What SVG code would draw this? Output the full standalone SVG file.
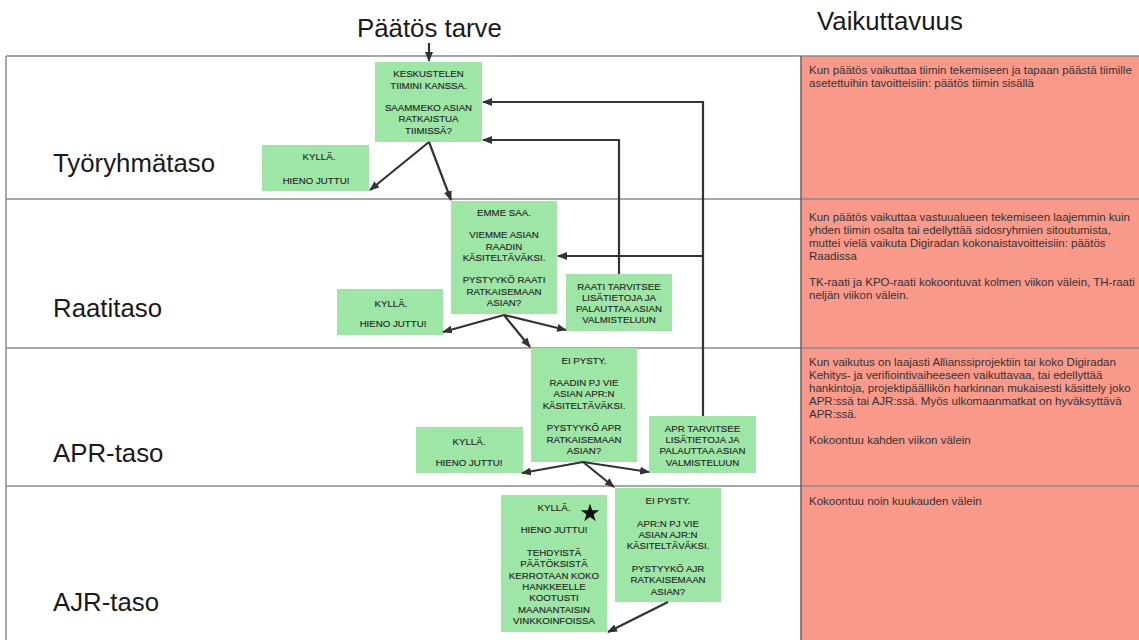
<svg xmlns="http://www.w3.org/2000/svg" width="1139" height="640" viewBox="0 0 1139 640">
<defs>
<marker id="ah" markerWidth="10" markerHeight="8" refX="9" refY="4" orient="auto" markerUnits="userSpaceOnUse">
<path d="M0,0 L10,4 L0,8 z" fill="#333"/>
</marker>
<style>
.grid{stroke:#8a8a8a;stroke-width:1.5;fill:none}
.box{fill:#9ee6a5}
.bt{font-family:"Liberation Sans",Arial,sans-serif;font-size:9.7px;fill:#262626;stroke:#262626;stroke-width:0.15;text-anchor:middle}
.lvl{font-family:"Liberation Sans",Arial,sans-serif;font-size:25.8px;fill:#1a1a1a}
.rt{font-family:"Liberation Sans",Arial,sans-serif;font-size:11.5px;fill:#333}
.con{stroke:#333;stroke-width:2.2;fill:none;marker-end:url(#ah)}
</style>
</defs>
<rect width="1139" height="640" fill="#fff"/>
<g id="table">
<rect x="801" y="56" width="338" height="584" fill="#f8998a"/>
<line class="grid" x1="6" y1="56" x2="1139" y2="56"/>
<line class="grid" x1="6" y1="56" x2="6" y2="640"/>
<line class="grid" x1="6" y1="199" x2="1139" y2="199"/>
<line class="grid" x1="6" y1="348" x2="1139" y2="348"/>
<line class="grid" x1="6" y1="486" x2="1139" y2="486" stroke="#666"/>
<line x1="801" y1="56" x2="801" y2="640" stroke="#6f5f5c" stroke-width="1.5"/>
</g>
<g id="headers">
<text class="lvl" x="357" y="37" font-size="26.8">Päätös tarve</text>
<text class="lvl" x="817" y="30">Vaikuttavuus</text>
</g>
<g id="levels">
<text class="lvl" x="53" y="172">Työryhmätaso</text>
<text class="lvl" x="53" y="317">Raatitaso</text>
<text class="lvl" x="53" y="462">APR-taso</text>
<text class="lvl" x="53" y="611">AJR-taso</text>
</g>
<g id="impact">
<text class="rt" x="809"><tspan x="809" y="74">Kun päätös vaikuttaa tiimin tekemiseen ja tapaan päästä tiimille</tspan><tspan x="809" y="87">asetettuihin tavoitteisiin: päätös tiimin sisällä</tspan></text>
<text class="rt" x="809"><tspan x="809" y="221">Kun päätös vaikuttaa vastuualueen tekemiseen laajemmin kuin</tspan><tspan x="809" y="234">yhden tiimin osalta tai edellyttää sidosryhmien sitoutumista,</tspan><tspan x="809" y="247">muttei vielä vaikuta Digiradan kokonaistavoitteisiin: päätös</tspan><tspan x="809" y="260">Raadissa</tspan><tspan x="809" y="286">TK-raati ja KPO-raati kokoontuvat kolmen viikon välein, TH-raati</tspan><tspan x="809" y="299">neljän viikon välein.</tspan></text>
<text class="rt" x="809"><tspan x="809" y="366">Kun vaikutus on laajasti Allianssiprojektiin tai koko Digiradan</tspan><tspan x="809" y="379">Kehitys- ja verifiointivaiheeseen vaikuttavaa, tai edellyttää</tspan><tspan x="809" y="392">hankintoja, projektipäällikön harkinnan mukaisesti käsittely joko</tspan><tspan x="809" y="405">APR:ssä tai AJR:ssä. Myös ulkomaanmatkat on hyväksyttävä</tspan><tspan x="809" y="418">APR:ssä.</tspan><tspan x="809" y="444">Kokoontuu kahden viikon välein</tspan></text>
<text class="rt" x="809" y="505">Kokoontuu noin kuukauden välein</text>
</g>
<g id="n-keskustelen">
<rect class="box" x="375" y="62" width="107" height="80"/>
<text class="bt"><tspan x="428.5" y="77">KESKUSTELEN</tspan><tspan x="428.5" y="89">TIIMINI KANSSA.</tspan><tspan x="428.5" y="111">SAAMMEKO ASIAN</tspan><tspan x="428.5" y="122">RATKAISTUA</tspan><tspan x="428.5" y="134">TIIMISSÄ?</tspan></text>
</g>
<g id="n-kylla1">
<rect class="box" x="262" y="145" width="107" height="46"/>
<text class="bt"><tspan x="319" y="160">KYLLÄ.</tspan><tspan x="316" y="184">HIENO JUTTU!</tspan></text>
</g>
<g id="n-emme">
<rect class="box" x="451" y="201" width="106" height="113"/>
<text class="bt"><tspan x="504" y="215.5">EMME SAA.</tspan><tspan x="504" y="238">VIEMME ASIAN</tspan><tspan x="504" y="249.5">RAADIN</tspan><tspan x="504" y="260.8">KÄSITELTÄVÄKSI.</tspan><tspan x="504" y="283.4">PYSTYYKÖ RAATI</tspan><tspan x="504" y="294.7">RATKAISEMAAN</tspan><tspan x="504" y="306">ASIAN?</tspan></text>
</g>
<g id="n-kylla2">
<rect class="box" x="337" y="289" width="106" height="46"/>
<text class="bt"><tspan x="391" y="306.5">KYLLÄ.</tspan><tspan x="393" y="326.5">HIENO JUTTU!</tspan></text>
</g>
<g id="n-raati-lisa">
<rect class="box" x="566" y="274" width="106" height="57"/>
<text class="bt"><tspan x="619" y="289.5">RAATI TARVITSEE</tspan><tspan x="619" y="300.8">LISÄTIETOJA JA</tspan><tspan x="619" y="312.1">PALAUTTAA ASIAN</tspan><tspan x="619" y="323.4">VALMISTELUUN</tspan></text>
</g>
<g id="n-eipysty-apr">
<rect class="box" x="531" y="348" width="106" height="114"/>
<text class="bt"><tspan x="584" y="363.5">EI PYSTY.</tspan><tspan x="584" y="386">RAADIN PJ VIE</tspan><tspan x="584" y="397.3">ASIAN APR:N</tspan><tspan x="584" y="408.6">KÄSITELTÄVÄKSI.</tspan><tspan x="584" y="431.2">PYSTYYKÖ APR</tspan><tspan x="584" y="442.5">RATKAISEMAAN</tspan><tspan x="584" y="453.8">ASIAN?</tspan></text>
</g>
<g id="n-kylla3">
<rect class="box" x="416" y="427" width="107" height="46"/>
<text class="bt"><tspan x="469" y="444.5">KYLLÄ.</tspan><tspan x="469" y="465.5">HIENO JUTTU!</tspan></text>
</g>
<g id="n-apr-lisa">
<rect class="box" x="649" y="416" width="107" height="57"/>
<text class="bt"><tspan x="702.5" y="431.7">APR TARVITSEE</tspan><tspan x="702.5" y="443">LISÄTIETOJA JA</tspan><tspan x="702.5" y="454.3">PALAUTTAA ASIAN</tspan><tspan x="702.5" y="465.6">VALMISTELUUN</tspan></text>
</g>
<g id="n-kylla-final">
<rect class="box" x="501" y="495" width="106" height="137"/>
<text class="bt"><tspan x="554" y="510.8">KYLLÄ.</tspan><tspan x="554" y="533.4">HIENO JUTTU!</tspan><tspan x="554" y="556">TEHDYISTÄ</tspan><tspan x="554" y="567.3">PÄÄTÖKSISTÄ</tspan><tspan x="554" y="578.6">KERROTAAN KOKO</tspan><tspan x="554" y="589.9">HANKKEELLE</tspan><tspan x="554" y="601.2">KOOTUSTI</tspan><tspan x="554" y="612.5">MAANANTAISIN</tspan><tspan x="554" y="623.8">VINKKOINFOISSA</tspan></text>
<polygon points="590,503.5 592.2,510.3 599.3,510.3 593.6,514.5 595.8,521.3 590,517.1 584.2,521.3 586.4,514.5 580.7,510.3 587.8,510.3" fill="#111"/>
</g>
<g id="n-eipysty-ajr">
<rect class="box" x="615" y="488" width="106" height="114"/>
<text class="bt"><tspan x="668" y="504.2">EI PYSTY.</tspan><tspan x="668" y="526.8">APR:N PJ VIE</tspan><tspan x="668" y="538.1">ASIAN AJR:N</tspan><tspan x="668" y="549.4">KÄSITELTÄVÄKSI.</tspan><tspan x="668" y="572">PYSTYYKÖ AJR</tspan><tspan x="668" y="583.3">RATKAISEMAAN</tspan><tspan x="668" y="594.6">ASIAN?</tspan></text>
</g>
<g id="connectors">
<path class="con" d="M429,43 V61"/>
<path class="con" d="M429,142 L370,190"/>
<path class="con" d="M429,142 L451,200"/>
<path class="con" d="M703,416 V102 H483"/>
<path class="con" d="M703,256 H558"/>
<path class="con" d="M619,274 V140 H483"/>
<path class="con" d="M504,315 L443,332"/>
<path class="con" d="M504,315 L566,330"/>
<path class="con" d="M504,315 L530,347"/>
<path class="con" d="M583,462 L522,473"/>
<path class="con" d="M583,462 L649,472"/>
<path class="con" d="M583,462 L614,487"/>
<path class="con" d="M668,602 L608,632"/>
</g>
</svg>
